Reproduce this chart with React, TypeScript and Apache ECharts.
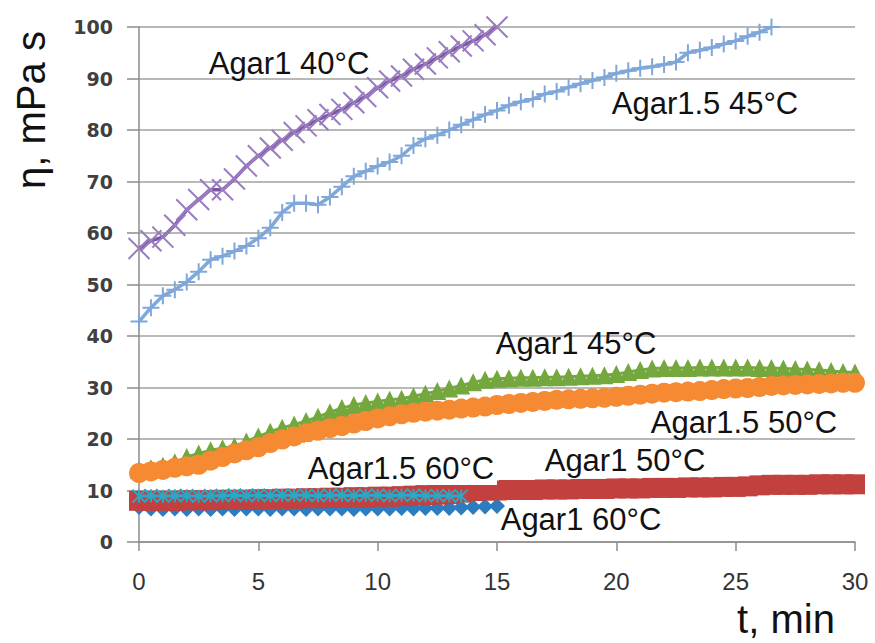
import React, { useEffect, useRef } from "react";
import * as echarts from "echarts";

// time grid, minutes
const times = [
  0, 0.5, 1, 1.5, 2, 2.5, 3, 3.5, 4, 4.5, 5, 5.5, 6, 6.5, 7, 7.5, 8, 8.5, 9, 9.5,
  10, 10.5, 11, 11.5, 12, 12.5, 13, 13.5, 14, 14.5, 15, 15.5, 16, 16.5, 17, 17.5,
  18, 18.5, 19, 19.5, 20, 20.5, 21, 21.5, 22, 22.5, 23, 23.5, 24, 24.5, 25, 25.5,
  26, 26.5, 27, 27.5, 28, 28.5, 29, 29.5, 30,
];

const xTicks = [0, 5, 10, 15, 20, 25, 30];
const yTicks = [0, 10, 20, 30, 40, 50, 60, 70, 80, 90, 100];

// Agar1 60°C (dark blue diamonds)
const agar1_60 = [
  6.8, 6.5, 6.4, 6.5, 6.4, 6.5, 6.4, 6.5, 6.4, 6.5, 6.5, 6.4, 6.5, 6.5, 6.4, 6.5,
  6.5, 6.5, 6.4, 6.5, 6.5, 6.5, 6.6, 6.5, 6.6, 6.6, 6.6, 6.7, 6.8, 6.9, 7.0,
];
// Agar1 50°C (red squares)
const agar1_50 = [
  8.0, 8.0, 8.0, 8.0, 8.1, 8.1, 8.1, 8.2, 8.2, 8.2, 8.3, 8.3, 8.4, 8.4, 8.5, 8.5,
  8.6, 8.6, 8.7, 8.7, 8.8, 8.8, 8.9, 9.0, 9.1, 9.2, 9.3, 9.6, 9.9, 10.0, 10.0,
  10.1, 10.1, 10.1, 10.2, 10.2, 10.2, 10.3, 10.3, 10.3, 10.4, 10.4, 10.4, 10.5,
  10.5, 10.5, 10.6, 10.6, 10.6, 10.7, 10.7, 10.8, 11.0, 11.1, 11.1, 11.1, 11.1,
  11.2, 11.2, 11.2, 11.2,
];
// Agar1 45°C (green triangles)
const agar1_45 = [
  14.0, 14.3, 14.8, 15.5, 16.5, 17.2, 17.8, 18.2, 18.6, 19.5, 20.5, 21.4, 22.2,
  22.8, 23.5, 24.3, 25.2, 26.0, 26.6, 27.0, 27.3, 27.6, 27.8, 28.3, 28.8, 29.3,
  29.8, 30.4, 31.0, 31.5, 31.7, 31.8, 31.9, 31.9, 32.0, 32.0, 32.1, 32.2, 32.3,
  32.4, 32.6, 33.0, 33.4, 33.7, 33.8, 33.8, 33.8, 33.9, 33.9, 33.9, 33.9, 33.9,
  33.8, 33.8, 33.7, 33.6, 33.5, 33.4, 33.2, 33.0, 32.9,
];
// Agar1 40°C (purple x)
const agar1_40 = [
  57.0, 58.5, 59.2, 61.5, 64.5, 66.5, 68.4, 68.4, 70.5, 73.0, 75.0, 76.5, 78.0,
  79.5, 80.8, 82.0, 83.0, 84.0, 85.3, 86.5, 88.2, 89.5, 90.5, 91.8, 92.8, 94.0,
  95.2, 96.3, 97.3, 98.5, 100.0,
];
// Agar1.5 60°C (cyan stars)
const agar15_60 = [
  8.9, 9.0, 8.9, 9.0, 9.0, 8.9, 9.0, 9.0, 9.1, 9.0, 9.1, 9.0, 9.1, 9.1, 9.1, 9.0,
  9.1, 9.1, 9.0, 9.1, 9.1, 9.0, 9.1, 9.1, 9.0, 9.0, 9.0, 8.9,
];
// Agar1.5 50°C (orange circles)
const agar15_50 = [
  13.4, 13.7, 14.0, 14.4, 14.7, 15.0, 15.8, 16.5, 17.2, 17.8, 18.4, 19.2, 19.9,
  20.5, 21.1, 21.6, 22.1, 22.5, 23.0, 23.5, 24.0, 24.4, 24.8, 25.1, 25.3, 25.5,
  25.7, 25.9, 26.1, 26.3, 26.6, 26.8, 27.0, 27.2, 27.4, 27.6, 27.7, 27.8, 27.9,
  28.0, 28.2, 28.4, 28.6, 28.8, 29.0, 29.1, 29.2, 29.3, 29.5, 29.7, 29.8, 29.9,
  30.1, 30.3, 30.4, 30.5, 30.6, 30.7, 30.8, 30.9, 30.9,
];
// Agar1.5 45°C (light blue plus)
const agar15_45 = [
  42.8, 45.5, 47.8, 49.0, 50.5, 52.5, 54.8, 55.5, 56.5, 57.5, 59.0, 61.0, 64.0,
  65.8, 65.8, 65.5, 67.0, 69.0, 71.0, 72.0, 73.0, 73.8, 75.0, 77.0, 78.3, 79.0,
  80.0, 81.0, 82.0, 83.0, 83.8, 84.8, 85.5, 86.0, 87.0, 87.5, 88.3, 89.0, 89.6,
  90.2, 91.0, 91.5, 92.0, 92.3, 92.7, 93.2, 95.0, 95.5, 96.0, 96.7, 97.3, 98.2,
  99.0, 100.0,
];

const seriesNames = [
  "Agar1 60°C",
  "Agar1 50°C",
  "Agar1 45°C",
  "Agar1 40°C",
  "Agar1.5 60°C",
  "Agar1.5 50°C",
  "Agar1.5 45°C",
];
const seriesValues = [agar1_60, agar1_50, agar1_45, agar1_40, agar15_60, agar15_50, agar15_45];
const seriesColors = ["#2e7cc0", "#c2403d", "#74a83e", "#7d55a3", "#2aa8c8", "#f58a32", "#80a7da"];
const markerColors = ["#2e7cc0", "#c2403d", "#74a83e", "#9a7cc0", "#2aa8c8", "#f58a32", "#80a7da"];
const seriesSymbols = [
  "diamond",
  "rect",
  "triangle",
  "path://M0,0L10,10M10,0L0,10",
  "path://M5,0L5,10M0,0L10,10M10,0L0,10",
  "circle",
  "path://M5,0L5,10M0,5L10,5",
];
const symbolSizes = [16, 20, 18, 21, 13, 20, 17];
const lineWidths = [3, 3, 3, 3.5, 3, 3, 3.5];

// annotation labels
const labelTexts = [
  "Agar1 40°C",
  "Agar1.5 45°C",
  "Agar1 45°C",
  "Agar1.5 50°C",
  "Agar1 50°C",
  "Agar1.5 60°C",
  "Agar1 60°C",
];

export default function App() {
  const ref = useRef<HTMLDivElement>(null);
  useEffect(() => {
    document.body.style.margin = "0";
    if (!ref.current) return;
    const chart = echarts.init(ref.current, null, { renderer: "svg" });
    const isPath = (s: string) => s.startsWith("path://");
    const series = seriesValues.map((vals, k) => ({
      name: seriesNames[k],
      type: "line",
      data: vals.map((v, i) => [times[i], v]),
      symbol: seriesSymbols[k],
      symbolSize: symbolSizes[k],
      showSymbol: true,
      showAllSymbol: true,
      z: 2 + k,
      lineStyle: { color: seriesColors[k], width: lineWidths[k] },
      itemStyle: isPath(seriesSymbols[k])
        ? { color: markerColors[k], borderColor: markerColors[k], borderWidth: 2 }
        : { color: markerColors[k], borderWidth: 0 },
      emphasis: { disabled: true },
    }));

    const labelPos: [number, number][] = [
      [289, 63],
      [705, 103],
      [576, 343],
      [744, 422],
      [625, 460],
      [401, 468],
      [581, 519],
    ];
    const font = 'normal 31px "Liberation Sans", Arial, sans-serif';
    const graphic: any[] = [
      {
        type: "rect",
        z: 100,
        shape: { x: 305, y: 442, width: 192, height: 43 },
        style: { fill: "#ffffff" },
      },
      ...labelTexts.map((t, i) => ({
        type: "text",
        z: 101,
        x: labelPos[i][0],
        y: labelPos[i][1],
        style: {
          text: t,
          font,
          fill: "#111111",
          align: "center",
          verticalAlign: "middle",
        },
      })),
      {
        type: "text",
        z: 101,
        x: 31,
        y: 110,
        rotation: Math.PI / 2,
        style: {
          text: "η, mPa s",
          font: 'normal 40px "Liberation Sans", Arial, sans-serif',
          fill: "#111111",
          align: "center",
          verticalAlign: "middle",
        },
      },
      {
        type: "text",
        z: 101,
        x: 786,
        y: 619,
        style: {
          text: "t, min",
          font: 'normal 40px "Liberation Sans", Arial, sans-serif',
          fill: "#111111",
          align: "center",
          verticalAlign: "middle",
        },
      },
    ];

    chart.setOption({
      animation: false,
      backgroundColor: "#ffffff",
      grid: { left: 139, right: 20, top: 27, bottom: 101 },
      xAxis: {
        type: "value",
        min: xTicks[0],
        max: xTicks[xTicks.length - 1],
        interval: xTicks[1] - xTicks[0],
        axisLine: { show: true, onZero: true, lineStyle: { color: "#8c8c8c", width: 1.5 } },
        axisTick: { show: true, length: 9, lineStyle: { color: "#8c8c8c", width: 1.5 } },
        splitLine: { show: false },
        axisLabel: {
          fontFamily: '"Liberation Sans", Arial, sans-serif',
          fontSize: 24,
          color: "#333333",
          margin: 27,
        },
      },
      yAxis: {
        type: "value",
        min: yTicks[0],
        max: yTicks[yTicks.length - 1],
        interval: yTicks[1] - yTicks[0],
        axisLine: { show: true, lineStyle: { color: "#8c8c8c", width: 1.5 } },
        axisTick: { show: true, length: 12, lineStyle: { color: "#8c8c8c", width: 1.5 } },
        splitLine: { show: true, lineStyle: { color: "#a0a0a0", width: 1.5 } },
        axisLabel: {
          fontFamily: '"DejaVu Sans", sans-serif',
          fontSize: 19,
          fontWeight: "bold",
          color: "#404040",
          margin: 26,
        },
      },
      series,
      graphic,
    });
    return () => chart.dispose();
  }, []);
  return <div ref={ref} style={{ width: 875, height: 643 }} />;
}
